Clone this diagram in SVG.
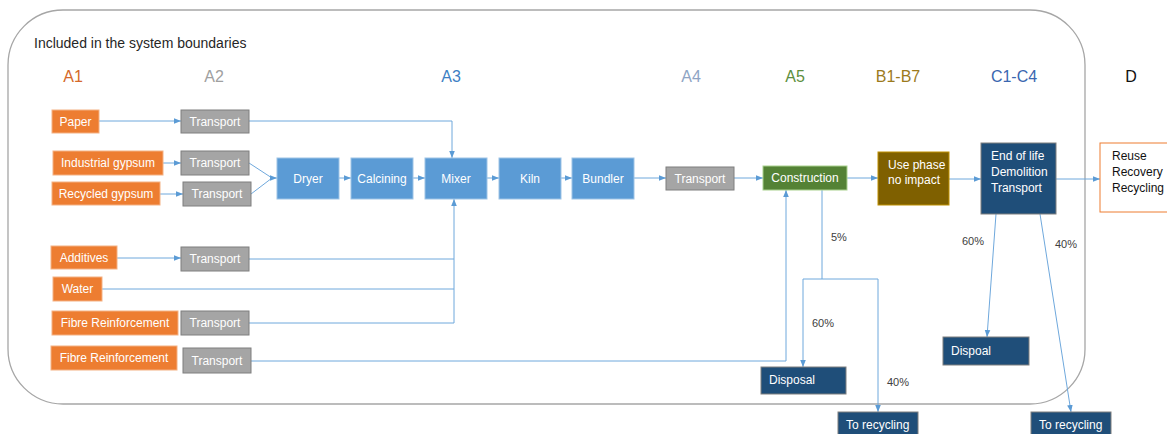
<svg xmlns="http://www.w3.org/2000/svg" width="1167" height="434" viewBox="0 0 1167 434">
<style>
text{font-family:"Liberation Sans",Arial,sans-serif}
.bx text{font-size:12px;fill:#fff}
.or{fill:#ed7d31;stroke:#f4b183;stroke-width:1}
.gr{fill:#a5a5a5;stroke:#7f7f7f;stroke-width:1}
.bl{fill:#5b9bd5;stroke:#9dc3e6;stroke-width:1}
.gn{fill:#548235;stroke:#a9d18e;stroke-width:1}
.br{fill:#7f6000;stroke:#bf9000;stroke-width:1}
.db{fill:#1f4e79;stroke:#7f7f7f;stroke-width:1}
.c{text-anchor:middle}
.ph{font-size:16px;text-anchor:middle}
.pc{font-size:11px;fill:#404040}
#connectors path{fill:none;stroke:#6fa8dc;stroke-width:1}
</style>
<defs>
<marker id="ah" viewBox="0 0 10 10" refX="10" refY="5" markerWidth="7" markerHeight="7" markerUnits="userSpaceOnUse" orient="auto"><path d="M0,1 L10,5 L0,9 z" fill="#5b9bd5"/></marker>
</defs>
<rect width="1167" height="434" fill="#fff"/>
<rect id="boundary" x="8" y="10" width="1077" height="394" rx="55" ry="55" fill="none" stroke="#a6a6a6" stroke-width="1.3"/>
<text x="34" y="48" font-size="14" fill="#262626">Included in the system boundaries</text>
<g id="phases">
<text class="ph" x="73" y="82" fill="#d5692a">A1</text>
<text class="ph" x="214" y="82" fill="#a0a0a0">A2</text>
<text class="ph" x="451" y="82" fill="#3d7fc4">A3</text>
<text class="ph" x="691" y="82" fill="#8ea4c4">A4</text>
<text class="ph" x="795" y="82" fill="#5d8f3e">A5</text>
<text class="ph" x="898" y="82" fill="#9c7a1c">B1-B7</text>
<text class="ph" x="1014" y="82" fill="#3a66b0">C1-C4</text>
<text class="ph" x="1131" y="82" fill="#111">D</text>
</g>
<g id="connectors" marker-end="url(#ah)">
<path d="M99,121 H181"/>
<path d="M163,163 H181"/>
<path d="M160,194 H183"/>
<path d="M249,121 H452 V158"/>
<path d="M249,163 L272,178" marker-end="none"/>
<path d="M251,194 L272,178" marker-end="none"/>
<path d="M271,178 H277"/>
<path d="M339,178 H351"/>
<path d="M413,178 H425"/>
<path d="M487,178 H499"/>
<path d="M561,178 H572"/>
<path d="M634,178 H666"/>
<path d="M734,178 H763"/>
<path d="M847,178 H878"/>
<path d="M949,179 H981"/>
<path d="M1056,179 H1100"/>
<path d="M117,258 H181"/>
<path d="M249,259 H454" marker-end="none"/>
<path d="M102,289 H454" marker-end="none"/>
<path d="M249,323 H454 V199"/>
<path d="M251,361 H786 V190"/>
<path d="M822,190 V279" marker-end="none"/>
<path d="M878,279 H803 V367"/>
<path d="M878,279 V412"/>
<path d="M996,214 L987,337"/>
<path d="M1040,214 L1071,412"/>
</g>
<g id="paper" class="bx"><rect class="or" x="52" y="110" width="47" height="23"/><text class="c" x="75.5" y="126">Paper</text></g>
<g id="t-paper" class="bx"><rect class="gr" x="181" y="110" width="68" height="23"/><text class="c" x="215" y="126">Transport</text></g>
<g id="industrial" class="bx"><rect class="or" x="53" y="151" width="110" height="24"/><text class="c" x="108" y="167">Industrial gypsum</text></g>
<g id="t-industrial" class="bx"><rect class="gr" x="181" y="151" width="68" height="24"/><text class="c" x="215" y="167">Transport</text></g>
<g id="recycled" class="bx"><rect class="or" x="52" y="182" width="108" height="23"/><text class="c" x="106" y="198">Recycled gypsum</text></g>
<g id="t-recycled" class="bx"><rect class="gr" x="183" y="182" width="68" height="24"/><text class="c" x="217" y="198">Transport</text></g>
<g id="dryer" class="bx"><rect class="bl" x="277" y="158" width="62" height="41"/><text class="c" x="308" y="183">Dryer</text></g>
<g id="calcining" class="bx"><rect class="bl" x="351" y="158" width="62" height="41"/><text class="c" x="382" y="183">Calcining</text></g>
<g id="mixer" class="bx"><rect class="bl" x="425" y="158" width="62" height="41"/><text class="c" x="456" y="183">Mixer</text></g>
<g id="kiln" class="bx"><rect class="bl" x="499" y="158" width="62" height="41"/><text class="c" x="530" y="183">Kiln</text></g>
<g id="bundler" class="bx"><rect class="bl" x="572" y="158" width="62" height="41"/><text class="c" x="603" y="183">Bundler</text></g>
<g id="additives" class="bx"><rect class="or" x="51" y="246" width="66" height="23"/><text class="c" x="84" y="262">Additives</text></g>
<g id="t-additives" class="bx"><rect class="gr" x="181" y="247" width="68" height="24"/><text class="c" x="215" y="263">Transport</text></g>
<g id="water" class="bx"><rect class="or" x="53" y="277" width="49" height="24"/><text class="c" x="77.5" y="293">Water</text></g>
<g id="fibre1" class="bx"><rect class="or" x="52" y="311" width="126" height="24"/><text class="c" x="115" y="327">Fibre Reinforcement</text></g>
<g id="t-fibre1" class="bx"><rect class="gr" x="181" y="311" width="68" height="24"/><text class="c" x="215" y="327">Transport</text></g>
<g id="fibre2" class="bx"><rect class="or" x="51" y="346" width="126" height="24"/><text class="c" x="114" y="362">Fibre Reinforcement</text></g>
<g id="t-fibre2" class="bx"><rect class="gr" x="183" y="348" width="68" height="25"/><text class="c" x="217" y="365">Transport</text></g>
<g id="t-a4" class="bx"><rect class="gr" x="666" y="167" width="68" height="23"/><text class="c" x="700" y="183">Transport</text></g>
<g id="construction" class="bx"><rect class="gn" x="763" y="166" width="84" height="24"/><text class="c" x="805" y="182">Construction</text></g>
<g id="usephase" class="bx"><rect class="br" x="878" y="152" width="71" height="53"/><text x="888" y="169">Use phase</text><text x="888" y="184">no impact</text></g>
<g id="endoflife" class="bx"><rect class="db" x="981" y="143" width="75" height="71"/><text x="991" y="160">End of life</text><text x="991" y="176">Demolition</text><text x="991" y="192">Transport</text></g>
<g id="reuse"><rect x="1100" y="143" width="75" height="69" fill="#fff" stroke="#ed7d31" stroke-width="1"/><text x="1112" y="160" font-size="12" fill="#111">Reuse</text><text x="1112" y="176" font-size="12" fill="#111">Recovery</text><text x="1112" y="192" font-size="12" fill="#111">Recycling</text></g>
<g id="disposal" class="bx"><rect class="db" x="761" y="367" width="85" height="27"/><text x="769" y="384">Disposal</text></g>
<g id="torecycling1" class="bx"><rect class="db" x="838" y="412" width="80" height="30"/><text x="846" y="429">To recycling</text></g>
<g id="dispoal" class="bx"><rect class="db" x="943" y="337" width="86" height="28"/><text x="951" y="355">Dispoal</text></g>
<g id="torecycling2" class="bx"><rect class="db" x="1031" y="412" width="80" height="30"/><text x="1039" y="429">To recycling</text></g>
<g id="percents">
<text class="pc" x="831" y="241">5%</text>
<text class="pc" x="812" y="327">60%</text>
<text class="pc" x="887" y="386">40%</text>
<text class="pc" x="962" y="245">60%</text>
<text class="pc" x="1055" y="248">40%</text>
</g>
</svg>
